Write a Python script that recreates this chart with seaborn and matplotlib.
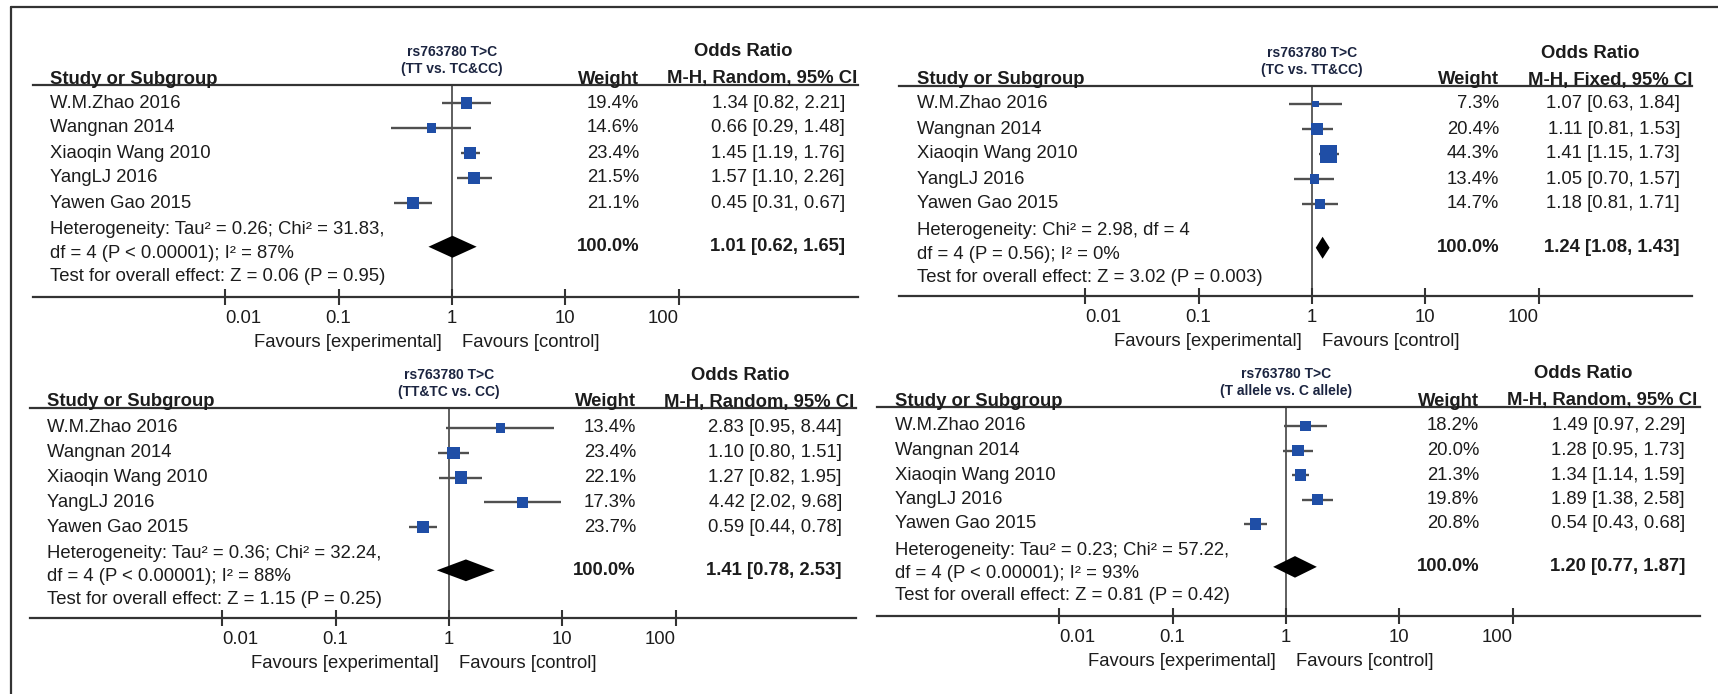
import numpy as np
import pandas as pd
import matplotlib
matplotlib.use("Agg")
import matplotlib.pyplot as plt
import matplotlib.transforms as mtransforms
from matplotlib.lines import Line2D
import seaborn as sns

# forest plots, rs763780 T>C, four genetic models

studies = ["W.M.Zhao 2016", "Wangnan 2014", "Xiaoqin Wang 2010", "YangLJ 2016", "Yawen Gao 2015"]

# TT vs. TC&CC
p1_or = [1.34, 0.66, 1.45, 1.57, 0.45]
p1_lo = [0.82, 0.29, 1.19, 1.10, 0.31]
p1_hi = [2.21, 1.48, 1.76, 2.26, 0.67]
p1_w = [19.4, 14.6, 23.4, 21.5, 21.1]
p1_pooled = [1.01, 0.62, 1.65]

# TC vs. TT&CC
p2_or = [1.07, 1.11, 1.41, 1.05, 1.18]
p2_lo = [0.63, 0.81, 1.15, 0.70, 0.81]
p2_hi = [1.84, 1.53, 1.73, 1.57, 1.71]
p2_w = [7.3, 20.4, 44.3, 13.4, 14.7]
p2_pooled = [1.24, 1.08, 1.43]

# TT&TC vs. CC
p3_or = [2.83, 1.10, 1.27, 4.42, 0.59]
p3_lo = [0.95, 0.80, 0.82, 2.02, 0.44]
p3_hi = [8.44, 1.51, 1.95, 9.68, 0.78]
p3_w = [13.4, 23.4, 22.1, 17.3, 23.7]
p3_pooled = [1.41, 0.78, 2.53]

# T allele vs. C allele
p4_or = [1.49, 1.28, 1.34, 1.89, 0.54]
p4_lo = [0.97, 0.95, 1.14, 1.38, 0.43]
p4_hi = [2.29, 1.73, 1.59, 2.58, 0.68]
p4_w = [18.2, 20.0, 21.3, 19.8, 20.8]
p4_pooled = [1.20, 0.77, 1.87]

comparisons = ["(TT vs. TC&CC)", "(TC vs. TT&CC)", "(TT&TC vs. CC)", "(T allele vs. C allele)"]
methods = ["M-H, Random, 95% CI", "M-H, Fixed, 95% CI", "M-H, Random, 95% CI", "M-H, Random, 95% CI"]
het_lines = [
    ["Heterogeneity: Tau² = 0.26; Chi² = 31.83,", "df = 4 (P < 0.00001); I² = 87%",
     "Test for overall effect: Z = 0.06 (P = 0.95)"],
    ["Heterogeneity: Chi² = 2.98, df = 4", "df = 4 (P = 0.56); I² = 0%",
     "Test for overall effect: Z = 3.02 (P = 0.003)"],
    ["Heterogeneity: Tau² = 0.36; Chi² = 32.24,", "df = 4 (P < 0.00001); I² = 88%",
     "Test for overall effect: Z = 1.15 (P = 0.25)"],
    ["Heterogeneity: Tau² = 0.23; Chi² = 57.22,", "df = 4 (P < 0.00001); I² = 93%",
     "Test for overall effect: Z = 0.81 (P = 0.42)"],
]
tick_vals = [0.01, 0.1, 1, 10, 100]
tick_labels = ["0.01", "0.1", "1", "10", "100"]

panels = [
    (p1_or, p1_lo, p1_hi, p1_w, p1_pooled),
    (p2_or, p2_lo, p2_hi, p2_w, p2_pooled),
    (p3_or, p3_lo, p3_hi, p3_w, p3_pooled),
    (p4_or, p4_lo, p4_hi, p4_w, p4_pooled),
]

# panel layout in pixels: left, right, top line, axis line, x of OR=1, first row, row step,
# name x, weight right edge, CI right edge, "Odds Ratio" centre
layout = [
    dict(L=33, R=858, top=85, bottom=297, x1=452, row0=103, step=25.0, nx=50, wx=639, cx=845, ox=743),
    dict(L=899, R=1692, top=86, bottom=296, x1=1312, row0=104, step=25.0, nx=917, wx=1499, cx=1680, ox=1590),
    dict(L=30, R=856, top=408, bottom=618, x1=449, row0=428, step=24.75, nx=47, wx=636, cx=842, ox=740),
    dict(L=877, R=1700, top=407, bottom=616, x1=1286, row0=426, step=24.5, nx=895, wx=1479, cx=1685, ox=1583),
]
DEC = 113.4  # pixels per decade
W, H = 1718, 694

sns.set_style("white")
plt.rcParams["font.family"] = ["Liberation Sans", "DejaVu Sans"]
TXT = "#1c1c1c"
BLUE = "#1f4ea6"
FS = 13.3

fig = plt.figure(figsize=(W / 100, H / 100), dpi=100)

for (or_, lo, hi, w, pooled), lay, comp, meth, het in zip(panels, layout, comparisons, methods, het_lines):
    ax = fig.add_axes([lay["L"] / W, 1 - lay["bottom"] / H,
                       (lay["R"] - lay["L"]) / W, (lay["bottom"] - lay["top"]) / H])
    ax.set_xscale("log")
    ax.set_xlim(10 ** ((lay["L"] - lay["x1"]) / DEC), 10 ** ((lay["R"] - lay["x1"]) / DEC))
    step = lay["step"]
    y_top = (lay["top"] - lay["row0"]) / step
    y_bot = (lay["bottom"] - lay["row0"]) / step
    ax.set_ylim(y_bot, y_top)

    df = pd.DataFrame({"study": studies, "or": or_, "lo": lo, "hi": hi, "weight": w,
                       "row": np.arange(len(studies))})

    # null line
    ax.axvline(1, color="#333333", lw=1.1, zorder=1)
    # confidence intervals
    ax.hlines(df["row"], df["lo"], df["hi"], color="#505050", lw=1.7, zorder=2)
    # study squares, area proportional to weight
    sns.scatterplot(data=df, x="or", y="row", size="weight", sizes=(0, 340), size_norm=(0, 100),
                    marker="s", color=BLUE, edgecolor="none", legend=False, ax=ax, zorder=3)
    # pooled diamond
    est, plo, phi = pooled
    yd = 5.75
    hd = 0.44
    ax.fill([plo, est, phi, est], [yd, yd - hd, yd, yd + hd], color="black", lw=0, zorder=3)

    # axis styling
    for s in ["left", "right"]:
        ax.spines[s].set_visible(False)
    for s in ["top", "bottom"]:
        ax.spines[s].set_color("#333333")
        ax.spines[s].set_linewidth(1.6)
    ax.set_yticks([])
    ax.set_xticks(tick_vals)
    ax.set_xticklabels(tick_labels)
    ax.xaxis.set_minor_locator(matplotlib.ticker.NullLocator())
    ax.tick_params(axis="x", which="major", bottom=True, direction="inout", length=11, width=1.5,
                   color="#333333", labelsize=FS, labelcolor=TXT, pad=4)
    tl = ax.get_xticklabels()
    tl[0].set_ha("left")
    tl[-1].set_ha("right")
    ax.set_xlabel("")
    ax.set_ylabel("")

    tr = mtransforms.blended_transform_factory(fig.transFigure, ax.transData)
    trx = mtransforms.blended_transform_factory(ax.transData, ax.transData)

    # header
    hb = y_top - 1.5 / step
    ax.text(lay["nx"] / W, hb, "Study or Subgroup", transform=tr, ha="left", va="baseline",
            fontsize=FS, fontweight="bold", color=TXT)
    ax.text(lay["wx"] / W, hb, "Weight", transform=tr, ha="right", va="baseline",
            fontsize=FS, fontweight="bold", color=TXT)
    ax.text((lay["cx"] + 12) / W, hb, meth, transform=tr, ha="right", va="baseline",
            fontsize=FS, fontweight="bold", color=TXT)
    ax.text(lay["ox"] / W, y_top - 33 / step, "Odds Ratio", transform=tr, ha="center", va="center",
            fontsize=FS, fontweight="bold", color=TXT)
    ax.text(1, y_top - 33 / step, "rs763780 T>C", transform=trx, ha="center", va="center",
            fontsize=10, fontweight="bold", color="#1b2440")
    ax.text(1, y_top - 16 / step, comp, transform=trx, ha="center", va="center",
            fontsize=10, fontweight="bold", color="#1b2440")

    # study rows
    for _, r in df.iterrows():
        ax.text(lay["nx"] / W, r["row"], r["study"], transform=tr, ha="left", va="center",
                fontsize=FS, color=TXT)
        ax.text(lay["wx"] / W, r["row"], f"{r['weight']:.1f}%", transform=tr, ha="right",
                va="center", fontsize=FS, color=TXT)
        ax.text(lay["cx"] / W, r["row"], f"{r['or']:.2f} [{r['lo']:.2f}, {r['hi']:.2f}]",
                transform=tr, ha="right", va="center", fontsize=FS, color=TXT)

    # totals
    ax.text(lay["wx"] / W, yd, "100.0%", transform=tr, ha="right", va="center",
            fontsize=FS, fontweight="bold", color=TXT)
    ax.text(lay["cx"] / W, yd, f"{est:.2f} [{plo:.2f}, {phi:.2f}]", transform=tr, ha="right",
            va="center", fontsize=FS, fontweight="bold", color=TXT)
    for yy, line in zip([5.07, 6.02, 6.93], het):
        ax.text(lay["nx"] / W, yy, line, transform=tr, ha="left", va="center",
                fontsize=FS, color=TXT)

    # favours labels
    ax.annotate("Favours [experimental]", xy=(1, 0), xycoords=("data", "axes fraction"),
                xytext=(-7, -33), textcoords="offset points", ha="right", va="center",
                fontsize=FS, color=TXT)
    ax.annotate("Favours [control]", xy=(1, 0), xycoords=("data", "axes fraction"),
                xytext=(7, -33), textcoords="offset points", ha="left", va="center",
                fontsize=FS, color=TXT)

# outer frame (top and left edges only)
fig.add_artist(Line2D([11 / W, 1], [1 - 7 / H, 1 - 7 / H], color="#333333", lw=1.6,
                      transform=fig.transFigure))
fig.add_artist(Line2D([11 / W, 11 / W], [0, 1 - 7 / H], color="#333333", lw=1.6,
                      transform=fig.transFigure))

fig.savefig("out.png", dpi=100, facecolor="white")
